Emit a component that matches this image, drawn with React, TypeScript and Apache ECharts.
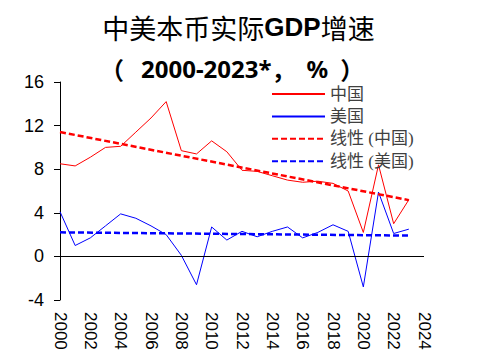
import React, { useEffect, useRef } from "react";
import * as echarts from "echarts";

const years = [2000, 2001, 2002, 2003, 2004, 2005, 2006, 2007, 2008, 2009, 2010, 2011, 2012, 2013, 2014, 2015, 2016, 2017, 2018, 2019, 2020, 2021, 2022, 2023];
const chinaGrowth = [8.5, 8.3, 9.1, 10.0, 10.1, 11.4, 12.7, 14.2, 9.7, 9.4, 10.6, 9.6, 7.9, 7.8, 7.4, 7.0, 6.8, 6.9, 6.7, 6.0, 2.2, 8.4, 3.0, 5.2];
const usGrowth = [4.1, 1.0, 1.7, 2.8, 3.9, 3.5, 2.8, 2.0, 0.1, -2.6, 2.7, 1.5, 2.3, 1.8, 2.3, 2.7, 1.7, 2.2, 2.9, 2.3, -2.8, 5.9, 2.1, 2.5];
const seriesNames = ["中国", "美国", "线性 (中国)", "线性 (美国)"];
const xTicks = { min: 2000, max: 2024, interval: 2 };
const yTicks = { min: -4, max: 16, interval: 4 };

function linearFit(xs: number[], ys: number[]): number[][] {
  const n = xs.length;
  const mx = xs.reduce((a, b) => a + b, 0) / n;
  const my = ys.reduce((a, b) => a + b, 0) / n;
  let sxy = 0;
  let sxx = 0;
  for (let i = 0; i < n; i++) {
    sxy += (xs[i] - mx) * (ys[i] - my);
    sxx += (xs[i] - mx) * (xs[i] - mx);
  }
  const slope = sxy / sxx;
  const b = my - slope * mx;
  const x0 = xs[0];
  const x1 = xs[n - 1];
  return [
    [x0, slope * x0 + b],
    [x1, slope * x1 + b],
  ];
}

export default function App() {
  const ref = useRef<HTMLDivElement>(null);
  useEffect(() => {
    if (!ref.current) return;
    const chart = echarts.init(ref.current, undefined, { renderer: "svg" });
    const chinaData = years.map((y, i) => [y, chinaGrowth[i]]);
    const usData = years.map((y, i) => [y, usGrowth[i]]);
    const axisFont = "'Liberation Sans', 'DejaVu Sans', sans-serif";
    const cjk = "'Noto Sans CJK SC', sans-serif";
    const sub = { fontFamily: cjk, fontSize: 24, lineHeight: 26, fontWeight: "bold", color: "#000" };
    chart.setOption({
      animation: false,
      backgroundColor: "#ffffff",
      title: [
        {
          text: "{a|中美本币实际}{b|GDP}{a|增速}",
          left: "center",
          top: 7,
          textStyle: {
            rich: {
              a: { fontFamily: cjk, fontSize: 27, lineHeight: 30, fontWeight: "normal", color: "#000" },
              b: { fontFamily: "'Liberation Sans Narrow', 'Liberation Sans', sans-serif", fontSize: 26, lineHeight: 30, fontWeight: "bold", color: "#000" },
            },
          },
        },
        {
          text: "{pl|（}{d|2000-2023*}{c|，}{d|%}{pr|）}",
          left: 99,
          top: 50,
          textStyle: {
            rich: {
              pl: { ...sub, padding: [0, 17, 0, -4] },
              c: { ...sub, padding: [0, 11, 0, 0] },
              pr: { ...sub, padding: [0, 0, 0, 12] },
              d: { ...sub, fontFamily: "'Noto Sans', sans-serif" },
            },
          },
        },
      ],
      legend: {
        orient: "vertical",
        left: 266,
        top: 79,
        itemWidth: 53,
        itemHeight: 14,
        itemGap: 2.4,
        data: seriesNames,
        itemStyle: { opacity: 0 },
        textStyle: {
          fontFamily: "'Liberation Serif', 'Noto Sans CJK SC', serif",
          fontSize: 17,
          lineHeight: 20,
          color: "#404040",
        },
      },
      grid: { left: 60, right: 53, top: 82, bottom: 62, containLabel: false },
      xAxis: {
        type: "value",
        min: xTicks.min,
        max: xTicks.max,
        interval: xTicks.interval,
        axisLine: { show: false },
        axisTick: { show: false },
        splitLine: { show: false },
        axisLabel: {
          rotate: -90,
          margin: 12,
          fontFamily: axisFont,
          fontSize: 17,
          color: "#000",
          formatter: (v: number) => String(v),
        },
      },
      yAxis: {
        type: "value",
        min: yTicks.min,
        max: yTicks.max,
        interval: yTicks.interval,
        axisLine: { show: true, lineStyle: { color: "#000", width: 1 } },
        axisTick: { show: true, inside: false, length: 6, lineStyle: { color: "#000" } },
        splitLine: { show: false },
        axisLabel: {
          margin: 16,
          fontFamily: axisFont,
          fontSize: 18,
          color: "#000",
        },
      },
      series: [
        {
          name: seriesNames[0],
          type: "line",
          data: chinaData,
          symbol: "none",
          lineStyle: { color: "#ff0000", width: 1 },
          itemStyle: { color: "#ff0000" },
          z: 3,
          markLine: {
            silent: true,
            symbol: ["none", "none"],
            label: { show: false },
            lineStyle: { color: "#000", type: "solid", width: 1 },
            data: [{ yAxis: 0 }],
          },
        },
        {
          name: seriesNames[1],
          type: "line",
          data: usData,
          symbol: "none",
          lineStyle: { color: "#0000ff", width: 1 },
          itemStyle: { color: "#0000ff" },
          z: 3,
        },
        {
          name: seriesNames[2],
          type: "line",
          data: linearFit(years, chinaGrowth),
          symbol: "none",
          lineStyle: { color: "#ff0000", width: 2.5, type: [6, 3] },
          itemStyle: { color: "#ff0000" },
          z: 4,
        },
        {
          name: seriesNames[3],
          type: "line",
          data: linearFit(years, usGrowth),
          symbol: "none",
          lineStyle: { color: "#0000ff", width: 2.5, type: [6, 3] },
          itemStyle: { color: "#0000ff" },
          z: 4,
        },
      ],
    });
    return () => chart.dispose();
  }, []);
  return <div ref={ref} style={{ width: 477, height: 362, position: "absolute", left: 0, top: 0 }} />;
}
